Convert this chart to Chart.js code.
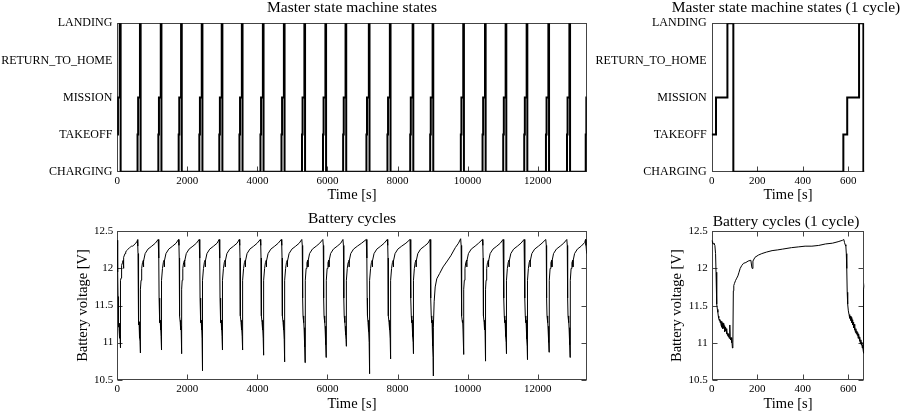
<!DOCTYPE html>
<html>
<head>
<meta charset="utf-8">
<script src="https://cdn.jsdelivr.net/npm/chart.js@4"></script>
<style>
  html, body { margin: 0; padding: 0; background: #fff; overflow: hidden; width: 900px; height: 414px; }
  canvas { position: absolute; }
</style>
</head>
<body>
<canvas id="statesAll" width="600" height="204" style="left:0;top:0"></canvas>
<canvas id="statesOne" width="400" height="204" style="left:586px;top:0"></canvas>
<canvas id="battAll" width="600" height="209" style="left:0;top:205px"></canvas>
<canvas id="battOne" width="400" height="209" style="left:586px;top:205px"></canvas>
<script>
// axis categories and ticks
var stateNames = ['CHARGING', 'TAKEOFF', 'MISSION', 'RETURN_TO_HOME', 'LANDING'];
var stateTicks = [0, 1, 2, 3, 4];
var timeTicksAll = [0, 2000, 4000, 6000, 8000, 10000, 12000];
var timeTicksOne = [0, 200, 400, 600];
var voltTicks = [10.5, 11, 11.5, 12, 12.5];
var timeMaxAll = 13400;
var timeMaxOne = 670;

// master state machine transitions: [time s, state index]
var stateSteps = [
  [0, 1], [19, 2], [69, 4], [95, 0],
  [578, 1], [595, 2], [647, 4], [666, 0],
  [1172, 1], [1189, 2], [1241, 4], [1260, 0],
  [1752, 1], [1769, 2], [1821, 4], [1840, 0],
  [2342, 1], [2359, 2], [2411, 4], [2430, 0],
  [2912, 1], [2929, 2], [2981, 4], [3000, 0],
  [3487, 1], [3504, 2], [3556, 4], [3575, 0],
  [4087, 1], [4104, 2], [4156, 4], [4175, 0],
  [4687, 1], [4704, 2], [4756, 4], [4775, 0],
  [5272, 1], [5289, 2], [5341, 4], [5360, 0],
  [5872, 1], [5889, 2], [5941, 4], [5960, 0],
  [6447, 1], [6464, 2], [6516, 4], [6535, 0],
  [7112, 1], [7129, 2], [7181, 4], [7200, 0],
  [7712, 1], [7729, 2], [7781, 4], [7800, 0],
  [8362, 1], [8379, 2], [8431, 4], [8450, 0],
  [8932, 1], [8949, 2], [9001, 4], [9020, 0],
  [9807, 1], [9824, 2], [9876, 4], [9895, 0],
  [10427, 1], [10444, 2], [10496, 4], [10515, 0],
  [11017, 1], [11034, 2], [11086, 4], [11105, 0],
  [11617, 1], [11634, 2], [11686, 4], [11705, 0],
  [12237, 1], [12254, 2], [12306, 4], [12325, 0],
  [12837, 1], [12854, 2], [12906, 4], [12925, 0],
  [13372, 1], [13390, 2], [13400, 2]
];

// battery voltage: [time s, volts]
var batteryVolts = [
  [0, 12.38], [2, 12.36], [4, 12.34], [7, 12.33], [10, 12.34], [14, 12.31], [17, 12.2], [19, 11.95], [21, 11.62],
  [23, 11.52], [25, 11.45], [27, 11.41], [29, 11.36], [31, 11.33], [33, 11.3], [35, 11.32], [37, 11.27], [39, 11.3],
  [41, 11.24], [43, 11.29], [45, 11.21], [47, 11.27], [49, 11.19], [51, 11.26], [53, 11.2], [55, 11.23], [57, 11.15],
  [59, 11.21], [61, 11.16], [63, 11.19], [65, 11.12], [67, 11.17], [69, 11.1], [71, 11.13], [73, 11.08], [75, 11.12],
  [77, 11.06], [79, 11.1], [80, 11.24], [81, 11.07], [83, 11.04], [85, 11.07], [87, 11.0], [89, 11.05], [91, 10.93],
  [93, 11.0], [95, 11.7], [97, 11.77], [100, 11.8], [105, 11.84], [110, 11.87], [115, 11.9], [120, 11.95], [125, 12.0],
  [132, 12.04], [140, 12.07], [150, 12.08], [160, 12.1], [172, 12.11], [176, 12.02], [178, 12.0], [181, 12.1],
  [190, 12.15], [205, 12.18], [220, 12.2], [240, 12.22], [265, 12.24], [290, 12.25], [310, 12.26], [350, 12.28],
  [380, 12.29], [410, 12.3], [440, 12.3], [470, 12.31], [500, 12.33], [530, 12.34], [555, 12.36], [575, 12.38],
  [580, 12.39], [583, 12.35], [586, 12.32], [589, 12.3], [591, 12.2], [593, 12.0], [595, 11.68], [597, 11.52],
  [600, 11.43], [603, 11.38], [606, 11.33], [609, 11.36], [611, 11.3], [613, 11.34], [615, 11.27], [617, 11.31],
  [619, 11.24], [621, 11.28], [623, 11.2], [625, 11.25], [627, 11.17], [629, 11.22], [631, 11.14], [633, 11.19],
  [635, 11.12], [637, 11.16], [639, 11.1], [641, 11.14], [643, 11.06], [645, 11.12], [647, 11.08], [649, 11.02],
  [651, 11.07], [653, 10.99], [655, 11.04], [657, 10.97], [659, 11.01], [661, 10.93], [663, 10.97], [665, 10.9],
  [666, 10.86],
  [668, 11.72], [678, 11.84], [696, 12.0], [720, 12.08], [745, 12.11], [748, 12.02], [752, 12.1], [795, 12.2], [875, 12.26], [985, 12.3], [1085, 12.34], [1167, 12.39],
  [1180, 12.31], [1188, 12.14], [1193, 11.6], [1202, 11.36], [1217, 11.27], [1224, 11.3], [1234, 11.17], [1242, 11.22], [1250, 11.08], [1256, 11.02], [1260, 10.9],
  [1262, 11.72], [1272, 11.84], [1290, 12.0], [1314, 12.08], [1339, 12.11], [1342, 12.02], [1346, 12.1], [1389, 12.2], [1469, 12.26], [1579, 12.3], [1679, 12.34], [1747, 12.39],
  [1760, 12.31], [1768, 12.14], [1773, 11.6], [1782, 11.36], [1797, 11.27], [1804, 11.3], [1814, 11.17], [1822, 11.22], [1830, 11.08], [1836, 11.02], [1840, 10.85],
  [1842, 11.72], [1852, 11.84], [1870, 12.0], [1894, 12.08], [1919, 12.11], [1922, 12.02], [1926, 12.1], [1969, 12.2], [2049, 12.26], [2159, 12.3], [2259, 12.34], [2337, 12.39],
  [2350, 12.31], [2358, 12.14], [2363, 11.6], [2372, 11.36], [2387, 11.27], [2394, 11.3], [2404, 11.17], [2412, 11.22], [2420, 11.05], [2426, 10.9], [2430, 10.62],
  [2432, 11.72], [2442, 11.84], [2460, 12.0], [2484, 12.08], [2509, 12.11], [2512, 12.02], [2516, 12.1], [2559, 12.2], [2639, 12.26], [2749, 12.3], [2849, 12.34], [2907, 12.39],
  [2920, 12.31], [2928, 12.14], [2933, 11.6], [2942, 11.36], [2957, 11.27], [2964, 11.3], [2974, 11.17], [2982, 11.22], [2990, 11.08], [2996, 11.02], [3000, 10.9],
  [3002, 11.72], [3012, 11.84], [3030, 12.0], [3054, 12.08], [3079, 12.11], [3082, 12.02], [3086, 12.1], [3129, 12.2], [3209, 12.26], [3319, 12.3], [3419, 12.34], [3482, 12.39],
  [3495, 12.31], [3503, 12.14], [3508, 11.6], [3517, 11.36], [3532, 11.27], [3539, 11.3], [3549, 11.17], [3557, 11.22], [3565, 11.08], [3571, 11.02], [3575, 10.9],
  [3577, 11.72], [3587, 11.84], [3605, 12.0], [3629, 12.08], [3654, 12.11], [3657, 12.02], [3661, 12.1], [3704, 12.2], [3784, 12.26], [3894, 12.3], [3994, 12.34], [4082, 12.39],
  [4095, 12.31], [4103, 12.14], [4108, 11.6], [4117, 11.36], [4132, 11.27], [4139, 11.3], [4149, 11.17], [4157, 11.22], [4165, 11.06], [4171, 10.98], [4175, 10.83],
  [4177, 11.72], [4187, 11.84], [4205, 12.0], [4229, 12.08], [4254, 12.11], [4257, 12.02], [4261, 12.1], [4304, 12.2], [4384, 12.26], [4494, 12.3], [4594, 12.34], [4682, 12.39],
  [4695, 12.31], [4703, 12.14], [4708, 11.6], [4717, 11.36], [4732, 11.27], [4739, 11.3], [4749, 11.17], [4757, 11.2], [4765, 11.04], [4771, 10.94], [4775, 10.74],
  [4777, 11.72], [4787, 11.84], [4805, 12.0], [4829, 12.08], [4854, 12.11], [4857, 12.02], [4861, 12.1], [4904, 12.2], [4984, 12.26], [5094, 12.3], [5194, 12.34], [5267, 12.39],
  [5280, 12.31], [5288, 12.14], [5293, 11.6], [5302, 11.36], [5317, 11.27], [5324, 11.3], [5334, 11.17], [5342, 11.2], [5350, 11.04], [5356, 10.94], [5360, 10.73],
  [5362, 11.72], [5372, 11.84], [5390, 12.0], [5414, 12.08], [5439, 12.11], [5442, 12.02], [5446, 12.1], [5489, 12.2], [5569, 12.26], [5679, 12.3], [5779, 12.34], [5867, 12.39],
  [5880, 12.31], [5888, 12.14], [5893, 11.6], [5902, 11.36], [5917, 11.27], [5924, 11.3], [5934, 11.17], [5942, 11.22], [5950, 11.06], [5956, 10.97], [5960, 10.8],
  [5962, 11.72], [5972, 11.84], [5990, 12.0], [6014, 12.08], [6039, 12.11], [6042, 12.02], [6046, 12.1], [6089, 12.2], [6169, 12.26], [6279, 12.3], [6379, 12.34], [6442, 12.39],
  [6455, 12.31], [6463, 12.14], [6468, 11.6], [6477, 11.36], [6492, 11.27], [6499, 11.3], [6509, 11.17], [6517, 11.22], [6525, 11.1], [6531, 11.04], [6535, 10.95],
  [6537, 11.72], [6547, 11.84], [6565, 12.0], [6589, 12.08], [6614, 12.11], [6617, 12.02], [6621, 12.1], [6664, 12.2], [6744, 12.26], [6854, 12.3], [6974, 12.34], [7107, 12.39],
  [7120, 12.31], [7128, 12.14], [7133, 11.6], [7142, 11.36], [7157, 11.27], [7164, 11.3], [7174, 11.15], [7182, 11.18], [7190, 11.0], [7196, 10.85], [7200, 10.58],
  [7202, 11.72], [7212, 11.84], [7230, 12.0], [7254, 12.08], [7279, 12.11], [7282, 12.02], [7286, 12.1], [7329, 12.2], [7409, 12.26], [7519, 12.3], [7619, 12.34], [7707, 12.39],
  [7720, 12.31], [7728, 12.14], [7733, 11.6], [7742, 11.36], [7757, 11.27], [7764, 11.3], [7774, 11.17], [7782, 11.2], [7790, 11.05], [7796, 10.96], [7800, 10.78],
  [7802, 11.72], [7812, 11.84], [7830, 12.0], [7854, 12.08], [7879, 12.11], [7882, 12.02], [7886, 12.1], [7929, 12.2], [8009, 12.26], [8119, 12.3], [8239, 12.34], [8357, 12.39],
  [8370, 12.31], [8378, 12.14], [8383, 11.6], [8392, 11.36], [8407, 11.27], [8414, 11.3], [8424, 11.17], [8432, 11.22], [8440, 11.08], [8446, 11.0], [8450, 10.85],
  [8452, 11.72], [8462, 11.84], [8480, 12.0], [8504, 12.08], [8529, 12.11], [8532, 12.02], [8536, 12.1], [8579, 12.2], [8659, 12.26], [8769, 12.3], [8869, 12.34], [8927, 12.39],
  [8940, 12.31], [8948, 12.14], [8953, 11.6], [8962, 11.36], [8977, 11.27], [8984, 11.3], [8994, 11.12], [9002, 11.15], [9010, 10.95], [9016, 10.8], [9020, 10.55],
  [9025, 11.2], [9045, 11.55], [9075, 11.75], [9120, 11.86], [9200, 11.93], [9300, 12.02], [9420, 12.1], [9520, 12.17], [9650, 12.28], [9740, 12.34], [9802, 12.4],
  [9815, 12.31], [9823, 12.14], [9828, 11.6], [9837, 11.36], [9852, 11.27], [9859, 11.3], [9869, 11.17], [9877, 11.22], [9885, 11.08], [9891, 11.0], [9895, 10.84],
  [9897, 11.72], [9907, 11.84], [9925, 12.0], [9949, 12.08], [9974, 12.11], [9977, 12.02], [9981, 12.1], [10024, 12.2], [10104, 12.26], [10214, 12.3], [10314, 12.34], [10422, 12.39],
  [10435, 12.31], [10443, 12.14], [10448, 11.6], [10457, 11.36], [10472, 11.27], [10479, 11.3], [10489, 11.17], [10497, 11.2], [10505, 11.05], [10511, 10.95], [10515, 10.75],
  [10517, 11.72], [10527, 11.84], [10545, 12.0], [10569, 12.08], [10594, 12.11], [10597, 12.02], [10601, 12.1], [10644, 12.2], [10724, 12.26], [10834, 12.3], [10934, 12.34], [11012, 12.39],
  [11025, 12.31], [11033, 12.14], [11038, 11.6], [11047, 11.36], [11062, 11.27], [11069, 11.3], [11079, 11.17], [11087, 11.22], [11095, 11.08], [11101, 11.0], [11105, 10.85],
  [11107, 11.72], [11117, 11.84], [11135, 12.0], [11159, 12.08], [11184, 12.11], [11187, 12.02], [11191, 12.1], [11234, 12.2], [11314, 12.26], [11424, 12.3], [11524, 12.34], [11612, 12.39],
  [11625, 12.31], [11633, 12.14], [11638, 11.6], [11647, 11.36], [11662, 11.27], [11669, 11.3], [11679, 11.17], [11687, 11.2], [11695, 11.05], [11701, 10.95], [11705, 10.77],
  [11707, 11.72], [11717, 11.84], [11735, 12.0], [11759, 12.08], [11784, 12.11], [11787, 12.02], [11791, 12.1], [11834, 12.2], [11914, 12.26], [12024, 12.3], [12124, 12.34], [12232, 12.39],
  [12245, 12.31], [12253, 12.14], [12258, 11.6], [12267, 11.36], [12282, 11.27], [12289, 11.3], [12299, 11.17], [12307, 11.22], [12315, 11.08], [12321, 11.0], [12325, 10.87],
  [12327, 11.72], [12337, 11.84], [12355, 12.0], [12379, 12.08], [12404, 12.11], [12407, 12.02], [12411, 12.1], [12454, 12.2], [12534, 12.26], [12644, 12.3], [12744, 12.34], [12832, 12.39],
  [12845, 12.31], [12853, 12.14], [12858, 11.6], [12867, 11.36], [12882, 11.27], [12889, 11.3], [12899, 11.17], [12907, 11.2], [12915, 11.06], [12921, 10.97], [12925, 10.8],
  [12927, 11.72], [12937, 11.84], [12955, 12.0], [12979, 12.08], [13004, 12.11], [13007, 12.02], [13011, 12.1], [13054, 12.2], [13134, 12.26], [13244, 12.3], [13344, 12.35], [13367, 12.39],
  [13380, 12.31], [13400, 12.2]
];

Chart.defaults.font.family = 'Liberation Serif';
Chart.defaults.color = '#000';

// matlab style box with inward tick marks
var boxTicks = {
    id: 'boxTicks',
    beforeDatasetsDraw: function (chart, args, opts) {
        var a = chart.chartArea, ctx = chart.ctx;
        var xs = chart.scales.x, ys = chart.scales.y;
        var L = Math.round(a.left) + 0.5, R = Math.round(a.right) - 0.5;
        var T = Math.round(a.top) + 0.5, B = Math.round(a.bottom) - 0.5;
        ctx.save();
        ctx.strokeStyle = '#444';
        ctx.lineWidth = 1;
        ctx.strokeRect(L, T, R - L, B - T);
        ctx.beginPath();
        xs.ticks.forEach(function (t) {
            var p = Math.round(xs.getPixelForValue(t.value)) + 0.5;
            ctx.moveTo(p, B); ctx.lineTo(p, B - 5);
            if (opts.all) { ctx.moveTo(p, T); ctx.lineTo(p, T + 5); }
        });
        if (opts.all) {
            ys.ticks.forEach(function (t) {
                var p = Math.round(ys.getPixelForValue(t.value)) + 0.5;
                ctx.moveTo(L, p); ctx.lineTo(L + 5, p);
                ctx.moveTo(R, p); ctx.lineTo(R - 5, p);
            });
        }
        ctx.stroke();
        ctx.restore();
    }
};

function setTicks(list) {
    return function (scale) {
        scale.ticks = list.map(function (v) { return { value: v }; });
    };
}
function fixWidth(w) { return function (scale) { scale.width = w; }; }
function fixHeight(h) { return function (scale) { scale.height = h; }; }
var noGrid = { display: false, drawTicks: false };

function makeChart(id, cfg) {
    var scales = {
        x: {
            type: 'linear', min: 0, max: cfg.xMax,
            afterBuildTicks: setTicks(cfg.xTicks),
            afterFit: fixHeight(cfg.xHeight),
            grid: noGrid, border: { display: false },
            ticks: { font: { size: 11 }, padding: 3, maxRotation: 0, autoSkip: false,
                     callback: function (v) { return String(v); } },
            title: { display: true, text: 'Time [s]', font: { size: 14.5 }, padding: { top: 0, bottom: cfg.xTitleBottom } }
        },
        y: {
            type: 'linear', min: cfg.yMin, max: cfg.yMax,
            afterBuildTicks: setTicks(cfg.yTicks),
            afterFit: fixWidth(cfg.yWidth),
            grid: noGrid, border: { display: false },
            ticks: { font: { size: cfg.yFont }, padding: cfg.yPad, autoSkip: false, callback: cfg.yLabel },
            title: cfg.yTitle ? { display: true, text: cfg.yTitle, font: { size: 14.5 }, padding: { top: cfg.yTitleTop, bottom: 0 } } : { display: false }
        }
    };
    if (cfg.rightWidth) {
        scales.yr = {
            type: 'linear', position: 'right', display: true,
            afterFit: fixWidth(cfg.rightWidth),
            grid: noGrid, border: { display: false }, ticks: { display: false }
        };
    }
    return new Chart(document.getElementById(id), {
        type: 'line',
        data: {
            datasets: [{
                data: cfg.data,
                borderColor: '#000',
                borderWidth: cfg.lineWidth,
                pointRadius: 0,
                stepped: cfg.stepped || false,
                tension: 0,
                fill: false
            }]
        },
        options: {
            responsive: false,
            animation: false,
            layout: { padding: { left: 0, right: cfg.padRight, top: 0, bottom: 0 } },
            plugins: {
                legend: { display: false },
                tooltip: { enabled: false },
                title: {
                    display: true, text: cfg.title, fullSize: !!cfg.rightWidth,
                    font: { size: 15.5, weight: 'normal', lineHeight: 1 },
                    padding: { top: cfg.titleTop, bottom: cfg.titleBottom }
                },
                boxTicks: { all: cfg.allTicks }
            },
            scales: scales
        },
        plugins: [boxTicks]
    });
}

var stateLabel = function (v) { return stateNames[v]; };
var voltLabel = function (v) { return String(v); };

makeChart('statesAll', {
    data: stateSteps, stepped: true, lineWidth: 2, title: 'Master state machine states',
    xMax: timeMaxAll, xTicks: timeTicksAll, xHeight: 32.3, xTitleBottom: 0,
    yMin: 0, yMax: 4, yTicks: stateTicks, yWidth: 117.3, yFont: 12, yPad: 5, yLabel: stateLabel,
    padRight: 13.3, titleTop: 0, titleBottom: 7.8, allTicks: false
});
makeChart('statesOne', {
    data: stateSteps, stepped: true, lineWidth: 2, title: 'Master state machine states (1 cycle)',
    xMax: timeMaxOne, xTicks: timeTicksOne, xHeight: 32.3, xTitleBottom: 0,
    yMin: 0, yMax: 4, yTicks: stateTicks, yWidth: 125.7, yFont: 12, yPad: 5, yLabel: stateLabel,
    rightWidth: 121.7, padRight: 0, titleTop: 0, titleBottom: 7.8, allTicks: false
});
makeChart('battAll', {
    data: batteryVolts, lineWidth: 1, title: 'Battery cycles',
    xMax: timeMaxAll, xTicks: timeTicksAll, xHeight: 34.3, xTitleBottom: 1,
    yMin: 10.5, yMax: 12.5, yTicks: voltTicks, yWidth: 117.3, yFont: 11, yPad: 4, yLabel: voltLabel,
    yTitle: 'Battery voltage [V]', yTitleTop: 74.3,
    padRight: 13.3, titleTop: 6.25, titleBottom: 4.55, allTicks: true
});
makeChart('battOne', {
    data: batteryVolts, lineWidth: 1, title: 'Battery cycles (1 cycle)',
    xMax: timeMaxOne, xTicks: timeTicksOne, xHeight: 34, xTitleBottom: 1,
    yMin: 10.5, yMax: 12.5, yTicks: voltTicks, yWidth: 125.7, yFont: 11, yPad: 4, yLabel: voltLabel,
    yTitle: 'Battery voltage [V]', yTitleTop: 82,
    rightWidth: 121.7, padRight: 0, titleTop: 8.75, titleBottom: 2.05, allTicks: true
});
</script>
</body>
</html>
